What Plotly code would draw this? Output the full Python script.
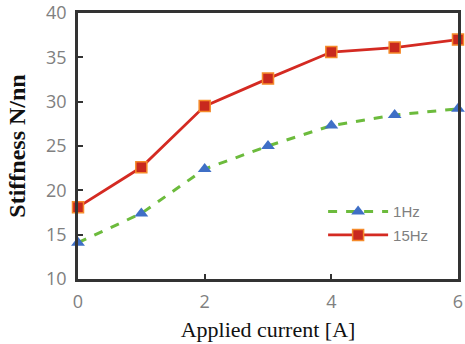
import plotly.graph_objects as go

current = [0, 1, 2, 3, 4, 5, 6]
stiff_1hz = [14.1, 17.4, 22.4, 25.0, 27.3, 28.5, 29.2]
stiff_15hz = [18.1, 22.6, 29.5, 32.6, 35.6, 36.1, 37.0]
x_ticks = [0, 2, 4, 6]
y_ticks = [10, 15, 20, 25, 30, 35, 40]

fig = go.Figure()
fig.add_trace(go.Scatter(
    x=current, y=stiff_1hz, name="1Hz", mode="lines+markers", legendgroup="a",
    line=dict(color="#6cbb3c", width=3, dash="dash"),
    marker=dict(symbol="triangle-up", size=12, color="#3f6fc6"),
    cliponaxis=False,
))
fig.add_trace(go.Scatter(
    x=current, y=stiff_15hz, name="15Hz", mode="lines+markers", legendgroup="b",
    line=dict(color="#d42a22", width=2.8),
    marker=dict(symbol="square", size=11, color="#c8281e",
                line=dict(color="#f58a2a", width=1.5)),
    cliponaxis=False,
))

fig.update_layout(
    width=465, height=344,
    margin=dict(l=78, r=7, t=13, b=65, autoexpand=False),
    plot_bgcolor="white", paper_bgcolor="white",
    showlegend=True,
    legend=dict(x=0.645, y=0.315, xanchor="left", yanchor="top",
                bgcolor="rgba(0,0,0,0)",
                font=dict(family="Liberation Sans, sans-serif", size=15, color="#808080"),
                tracegroupgap=1, itemwidth=60),
)
fig.update_xaxes(
    range=[0, 6], tickvals=x_ticks, ticks="inside", ticklen=5, tickwidth=2,
    tickcolor="#333333", showline=True, linecolor="#333333", linewidth=2.5,
    mirror=True, showgrid=False, zeroline=False, automargin=False,
    ticklabeloverflow="allow", ticklabelstandoff=5,
    tickfont=dict(family="Open Sans, sans-serif", size=18, color="#808080"),
    title=dict(text="Applied current [A]", standoff=10,
               font=dict(family="Liberation Serif, serif", size=22, color="#111111")),
)
fig.update_yaxes(
    range=[10, 40], tickvals=y_ticks, ticks="inside", ticklen=5, tickwidth=2,
    tickcolor="#333333", showline=True, linecolor="#333333", linewidth=2.5,
    mirror=True, showgrid=False, zeroline=False, automargin=False,
    ticklabeloverflow="allow", ticklabelstandoff=5,
    tickfont=dict(family="Open Sans, sans-serif", size=18, color="#808080"),
    title=dict(text="<b>Stiffness N/nn</b>", standoff=14,
               font=dict(family="Liberation Serif, serif", size=24, color="#111111")),
)

# remove the page's default 8px body margin so the figure fills the window
fig.write_html("out.html", config={"displayModeBar": False},
               post_script="document.body.style.margin='0';")
